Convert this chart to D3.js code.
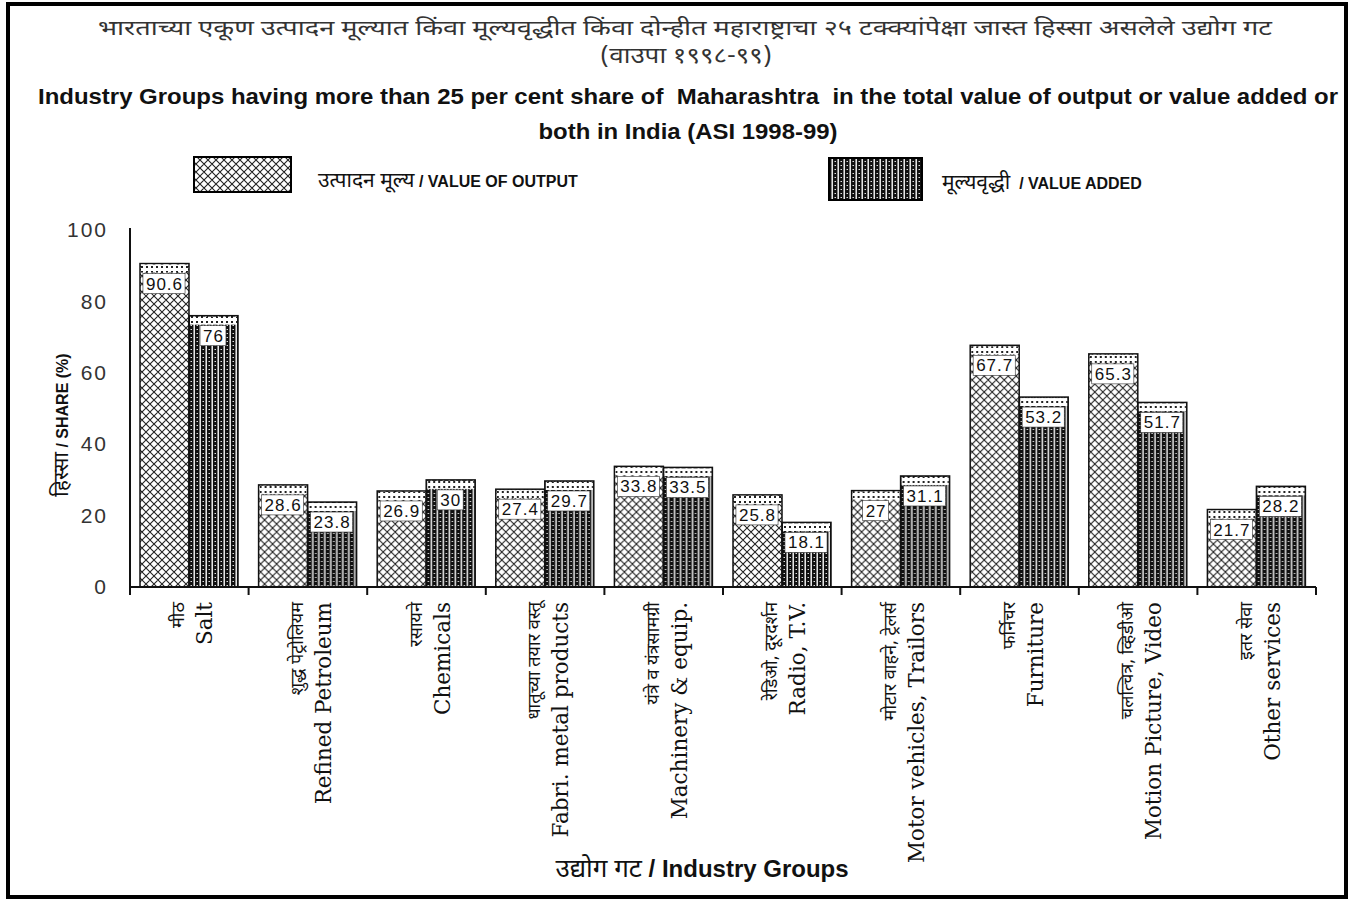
<!DOCTYPE html>
<html>
<head>
<meta charset="utf-8">
<script src="https://cdn.jsdelivr.net/npm/d3@7"></script>
<style>
  body { margin: 0; background: #fff; }
  svg { display: block; }
</style>
</head>
<body>
<div id="chart"></div>
<script>
// data (ASI 1998-99)
var categoriesEn = ["Salt", "Refined Petroleum", "Chemicals", "Fabri. metal products", "Machinery & equip.",
    "Radio, T.V.", "Motor vehicles, Trailors", "Furniture", "Motion Picture, Video", "Other services"];
var categoriesMr = ["मीठ", "शुद्ध पेट्रोलियम", "रसायने", "धातूच्या तयार वस्तू", "यंत्रे व यंत्रसामग्री",
    "रेडिओ, दूरदर्शन", "मोटार वाहने, ट्रेलर्स", "फर्निचर", "चलत्चित्र, व्हिडीओ", "इतर सेवा"];
var valueOutput = [90.6, 28.6, 26.9, 27.4, 33.8, 25.8, 27, 67.7, 65.3, 21.7];
var valueAdded = [76, 23.8, 30, 29.7, 33.5, 18.1, 31.1, 53.2, 51.7, 28.2];
var yTicks = [0, 20, 40, 60, 80, 100];
var seriesKeys = ["output", "added"];

var width = 1361, height = 900;
var margin = ({ top: 230, right: 45, bottom: 313, left: 130 });

var devFont = "'Noto Sans Devanagari', 'Lohit Devanagari', 'FreeSans', sans-serif";
var sansFont = "Arial, 'Liberation Sans', sans-serif";
var serifFont = "'DejaVu Serif', serif";

var svg = d3.select("#chart").append("svg")
    .attr("width", width)
    .attr("height", height);

// patterns: cross hatch for output, vertical stripes for value added, dotted cap
var defs = svg.append("defs");

var hatch = defs.append("pattern")
    .attr("id", "hatch")
    .attr("patternUnits", "userSpaceOnUse")
    .attr("width", 8).attr("height", 8);
hatch.append("rect").attr("width", 8).attr("height", 8).attr("fill", "#fff");
hatch.append("path")
    .attr("d", "M0,0 L8,8 M8,0 L0,8 M-4,4 L4,-4 M4,12 L12,4 M-4,4 L4,12 M4,-4 L12,4")
    .attr("stroke", "#222").attr("stroke-width", 1.1);

var stripes = defs.append("pattern")
    .attr("id", "stripes")
    .attr("patternUnits", "userSpaceOnUse")
    .attr("width", 6).attr("height", 4);
stripes.append("rect").attr("width", 6).attr("height", 4).attr("fill", "#111");
stripes.append("rect").attr("x", 3.5).attr("width", 1.4).attr("height", 4).attr("fill", "#fff");
stripes.append("rect").attr("x", 0.5).attr("y", 1).attr("width", 1.5).attr("height", 1).attr("fill", "#ddd");

var dots = defs.append("pattern")
    .attr("id", "dots")
    .attr("patternUnits", "userSpaceOnUse")
    .attr("width", 5).attr("height", 5);
dots.append("rect").attr("width", 5).attr("height", 5).attr("fill", "#fff");
dots.append("path").attr("d", "M1,1 L3,3 M3,1 L1,3").attr("stroke", "#222").attr("stroke-width", 1);

// frame
svg.append("rect")
    .attr("x", 8).attr("y", 4)
    .attr("width", 1338).attr("height", 893)
    .attr("fill", "none").attr("stroke", "#000").attr("stroke-width", 4);

// titles
svg.append("text")
    .attr("x", 685).attr("y", 35)
    .attr("text-anchor", "middle")
    .attr("textLength", 1174).attr("lengthAdjust", "spacingAndGlyphs")
    .style("font-family", devFont).style("font-size", "21px").style("fill", "#333")
    .text("भारताच्या एकूण उत्पादन मूल्यात किंवा मूल्यवृद्धीत किंवा दोन्हीत महाराष्ट्राचा २५ टक्क्यांपेक्षा जास्त हिस्सा असलेले उद्योग गट");
svg.append("text")
    .attr("x", 686).attr("y", 63)
    .attr("text-anchor", "middle")
    .attr("textLength", 172).attr("lengthAdjust", "spacingAndGlyphs")
    .style("font-family", devFont).style("font-size", "22px").style("fill", "#333")
    .text("(वाउपा १९९८-९९)");
svg.append("text")
    .attr("x", 688).attr("y", 104)
    .attr("text-anchor", "middle")
    .attr("textLength", 1300).attr("lengthAdjust", "spacingAndGlyphs")
    .style("font-family", sansFont).style("font-size", "22px").style("font-weight", "bold").style("fill", "#111")
    .style("white-space", "pre")
    .text("Industry Groups having more than 25 per cent share of  Maharashtra  in the total value of output or value added or");
svg.append("text")
    .attr("x", 688).attr("y", 139)
    .attr("text-anchor", "middle")
    .attr("textLength", 299).attr("lengthAdjust", "spacingAndGlyphs")
    .style("font-family", sansFont).style("font-size", "22px").style("font-weight", "bold").style("fill", "#111")
    .text("both in India (ASI 1998-99)");

// legend
var legendItems = [
    { key: "output", x: 194, y: 157, w: 97, h: 35, fill: "url(#hatch)", mr: "उत्पादन मूल्य", en: " / VALUE OF OUTPUT", tx: 318, ty: 187 },
    { key: "added", x: 829, y: 158, w: 93, h: 42, fill: "url(#stripes)", mr: "मूल्यवृद्धी", en: "  / VALUE ADDED", tx: 942, ty: 189 }
];
var legend = svg.append("g").selectAll("g")
    .data(legendItems)
    .enter().append("g");
legend.append("rect")
    .attr("x", d => d.x).attr("y", d => d.y)
    .attr("width", d => d.w).attr("height", d => d.h)
    .attr("fill", d => d.fill)
    .attr("stroke", "#000").attr("stroke-width", 2);
var legendText = legend.append("text")
    .attr("x", d => d.tx).attr("y", d => d.ty)
    .style("fill", "#111")
    .style("white-space", "pre");
legendText.append("tspan")
    .style("font-family", devFont).style("font-size", "21px")
    .text(d => d.mr);
legendText.append("tspan")
    .style("font-family", sansFont).style("font-size", "16px").style("font-weight", "bold")
    .text(d => d.en);

// scales
var x = d3.scaleBand()
    .domain(categoriesEn)
    .range([margin.left, width - margin.right])
    .padding(0);

var xSub = d3.scaleBand()
    .domain(seriesKeys)
    .range([10, 108])
    .padding(0);

var y = d3.scaleLinear()
    .domain([0, 100])
    .range([height - margin.bottom, margin.top]);

// y axis
var yAxis = g => g
    .attr("transform", `translate(${margin.left},0)`)
    .call(d3.axisLeft(y)
        .tickValues(yTicks)
        .tickSize(0)
        .tickPadding(22))
    .call(g => g.select(".domain").remove())
    .call(g => g.selectAll("text")
        .style("font-family", sansFont)
        .style("font-size", "21px")
        .style("letter-spacing", "2px")
        .style("fill", "#333"));
svg.append("g").call(yAxis);

svg.append("line")
    .attr("x1", margin.left).attr("x2", margin.left)
    .attr("y1", y(100) - 2).attr("y2", y(0) + 8)
    .attr("stroke", "#111").attr("stroke-width", 2);

// y axis title
var yTitle = svg.append("text")
    .attr("transform", `translate(68,425) rotate(-90)`)
    .attr("text-anchor", "middle")
    .style("fill", "#111")
    .style("white-space", "pre");
yTitle.append("tspan").style("font-family", devFont).style("font-size", "21px").text("हिस्सा");
yTitle.append("tspan").style("font-family", sansFont).style("font-size", "16px").style("font-weight", "bold").text(" / SHARE (%)");

// bars
var rows = categoriesEn.map((c, i) => ({
    cat: c, mr: categoriesMr[i],
    values: [{ key: "output", value: valueOutput[i] }, { key: "added", value: valueAdded[i] }]
}));

var groups = svg.append("g")
    .selectAll("g")
    .data(rows)
    .enter().append("g")
    .attr("transform", d => `translate(${x(d.cat)},0)`);

var bars = groups.selectAll("g.bar")
    .data(d => d.values)
    .enter().append("g")
    .attr("class", "bar");

bars.append("rect")
    .attr("x", d => xSub(d.key))
    .attr("y", d => y(d.value))
    .attr("width", xSub.bandwidth())
    .attr("height", d => y(0) - y(d.value))
    .attr("fill", d => d.key == "output" ? "url(#hatch)" : "url(#stripes)")
    .attr("stroke", "#111")
    .attr("stroke-width", 1.5);

// dotted cap at top of bar
bars.append("rect")
    .attr("x", d => xSub(d.key) + 1)
    .attr("y", d => y(d.value) + 1)
    .attr("width", xSub.bandwidth() - 2)
    .attr("height", 8)
    .attr("fill", "url(#dots)");

// value labels in white boxes
var labels = bars.append("g")
    .attr("transform", d => `translate(${xSub(d.key) + xSub.bandwidth() / 2},${y(d.value) + 11})`);
labels.append("text")
    .attr("y", 15)
    .attr("text-anchor", "middle")
    .style("font-family", sansFont)
    .style("font-size", "17px")
    .style("letter-spacing", "1px")
    .style("fill", "#111")
    .text(d => d.value);
labels.each(function () {
    var g = d3.select(this);
    var bb = g.select("text").node().getBBox();
    g.insert("rect", "text")
        .attr("x", bb.x - 3).attr("y", -1)
        .attr("width", bb.width + 5).attr("height", 20)
        .attr("fill", "#fff")
        .attr("stroke", "#333").attr("stroke-width", 0.6);
});

// x axis line and ticks at group boundaries
svg.append("line")
    .attr("x1", margin.left).attr("x2", width - margin.right)
    .attr("y1", y(0)).attr("y2", y(0))
    .attr("stroke", "#111").attr("stroke-width", 2);
svg.append("g")
    .selectAll("line")
    .data(categoriesEn)
    .enter().append("line")
    .attr("x1", d => x(d) + x.bandwidth()).attr("x2", d => x(d) + x.bandwidth())
    .attr("y1", y(0)).attr("y2", y(0) + 8)
    .attr("stroke", "#111").attr("stroke-width", 2);

// rotated category labels: marathi above, english below
var catLabels = svg.append("g")
    .selectAll("g")
    .data(rows)
    .enter().append("g")
    .attr("transform", d => `translate(${x(d.cat) + x.bandwidth() / 2},${y(0) + 15}) rotate(-90)`);
catLabels.append("text")
    .attr("y", -5)
    .attr("text-anchor", "end")
    .style("font-family", devFont)
    .style("font-size", "18px")
    .style("fill", "#111")
    .text(d => d.mr);
catLabels.append("text")
    .attr("y", 23)
    .attr("text-anchor", "end")
    .style("font-family", serifFont)
    .style("font-size", "21.5px")
    .style("fill", "#111")
    .text(d => d.cat);

// x axis title
var xTitle = svg.append("text")
    .attr("x", 702).attr("y", 877)
    .attr("text-anchor", "middle")
    .style("fill", "#111")
    .style("white-space", "pre");
xTitle.append("tspan").style("font-family", devFont).style("font-size", "26px").text("उद्योग गट");
xTitle.append("tspan").style("font-family", sansFont).style("font-size", "24px").style("font-weight", "bold").text(" / Industry Groups");
</script>
</body>
</html>
